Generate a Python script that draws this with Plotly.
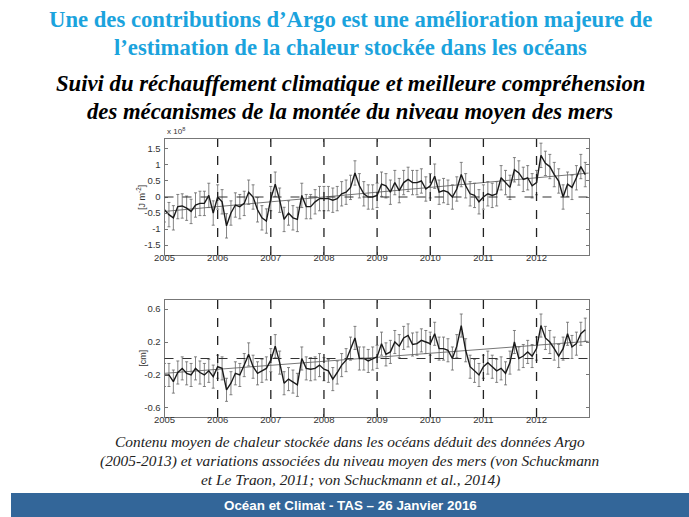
import numpy as np
import plotly.graph_objects as go

# ---------------- data ----------------
start_year = 2005
heat = [-0.40, -0.55, -0.65, -0.30, -0.28, -0.35, -0.45, -0.25, -0.20, -0.20, 0.05, -0.50,
        0.00, -0.15, -0.90, -0.50, -0.25, -0.30, -0.20, 0.15, 0.00, -0.40, -0.65, -0.75,
        -0.05, 0.40, -0.10, -0.70, -0.50, -0.65, -0.70, 0.05, -0.30, -0.30, -0.15, -0.05,
        -0.05, -0.05, -0.10, -0.05, 0.10, 0.15, 0.30, 0.75, 0.35, 0.10, 0.00, 0.00,
        0.05, 0.40, 0.35, 0.15, 0.45, 0.20, 0.45, 0.55, 0.45, 0.45, 0.50, 0.25,
        0.35, 0.65, 0.15, 0.20, 0.15, 0.00, 0.25, 0.70, 0.35, 0.10, 0.05, -0.15,
        0.00, 0.10, 0.05, 0.10, 0.60, 0.45, 0.30, 0.85, 0.75, 0.55, 0.60, 0.35,
        0.45, 1.30, 1.05, 0.95, 0.70, 0.50, 0.00, 0.40, 0.30, 0.60, 0.95, 0.70]
heat_err = 0.38
heat_trend = [-0.45, 0.75]

sea = [-0.20, -0.20, -0.28, -0.17, -0.12, -0.18, -0.20, -0.12, -0.17, -0.20, -0.15, -0.22,
       -0.10, -0.12, -0.38, -0.30, -0.18, -0.20, -0.08, 0.05, -0.10, -0.18, -0.15, -0.12,
       -0.02, 0.15, -0.05, -0.30, -0.25, -0.28, -0.32, 0.00, -0.12, -0.13, -0.12, -0.08,
       -0.13, -0.15, -0.25, -0.17, -0.08, -0.02, 0.12, 0.25, 0.00, 0.00, -0.03, 0.00,
       0.02, 0.18, 0.05, 0.08, 0.20, 0.15, 0.25, 0.28, 0.17, 0.18, 0.22, 0.20,
       0.18, 0.30, 0.12, 0.12, 0.10, 0.00, 0.15, 0.40, 0.10, -0.10, -0.15, -0.20,
       -0.10, -0.05, -0.10, -0.15, -0.12, -0.18, -0.05, 0.20, 0.00, 0.03, 0.08, 0.03,
       0.12, 0.40, 0.25, 0.20, 0.12, 0.03, 0.12, 0.30, 0.14, 0.18, 0.30, 0.35]
sea_err = 0.14
sea_trend = [-0.18, 0.21]

trend_years = [2005, 2013]
year_ticks = [2005, 2006, 2007, 2008, 2009, 2010, 2011, 2012]
year_lines = [2006, 2007, 2008, 2009, 2010, 2011, 2012]
heat_ticks = [-1.5, -1, -0.5, 0, 0.5, 1, 1.5]
heat_ticklabels = ["-1.5", "-1", "-0.5", "0", "0.5", "1", "1.5"]
sea_ticks = [-0.6, -0.2, 0.2, 0.6]
sea_ticklabels = ["-0.6", "-0.2", "0.2", "0.6"]

t = [start_year + i / 12 for i in range(len(heat))]

# ---------------- figure ----------------
fig = go.Figure()

def add_series(vals, err, trend, xa, ya):
    fig.add_trace(go.Scatter(x=trend_years, y=trend, mode="lines",
                             line=dict(color="#777777", width=1),
                             xaxis=xa, yaxis=ya, showlegend=False, hoverinfo="skip"))
    fig.add_trace(go.Scatter(x=t, y=vals, mode="lines",
                             line=dict(color="#1a1a1a", width=1.4),
                             error_y=dict(type="constant", value=err, color="#666666",
                                          thickness=0.8, width=1.5),
                             xaxis=xa, yaxis=ya, showlegend=False))

add_series(heat, heat_err, heat_trend, "x", "y")
add_series(sea, sea_err, sea_trend, "x2", "y2")

W, H = 689, 517
xdom = [156 / W, 587 / W]
ydom1 = [1 - 255 / H, 1 - 139 / H]
ydom2 = [1 - 417 / H, 1 - 300 / H]

SANS = "Liberation Sans, Arial, Helvetica, sans-serif"
SERIF = "Liberation Serif, Times New Roman, DejaVu Serif, serif"

axis_common = dict(showgrid=False, zeroline=False, showline=True, linecolor="#777777",
                   linewidth=1, mirror="ticks", ticks="inside", ticklen=3,
                   tickcolor="#777777", tickfont=dict(family=SANS, size=9.5, color="#333333"))

fig.update_layout(
    width=W, height=H, margin=dict(l=0, r=0, t=0, b=0),
    paper_bgcolor="white", plot_bgcolor="white",
    xaxis=dict(domain=xdom, anchor="y", range=[2005, 2012.98], tickvals=year_ticks,
               ticktext=[str(y) for y in year_ticks], ticklabelstandoff=-6, **axis_common),
    yaxis=dict(domain=ydom1, anchor="x", range=[-1.81, 1.81], tickvals=heat_ticks,
               ticktext=heat_ticklabels, ticklabelstandoff=1, **axis_common),
    xaxis2=dict(domain=xdom, anchor="y2", range=[2005, 2012.98], tickvals=year_ticks,
                ticktext=[str(y) for y in year_ticks], ticklabelstandoff=-6, **axis_common),
    yaxis2=dict(domain=ydom2, anchor="x2", range=[-0.71, 0.71], tickvals=sea_ticks,
                ticktext=sea_ticklabels, ticklabelstandoff=1, **axis_common),
)

shapes = []
for xr, yr in (("x", "y"), ("x2", "y2")):
    for yv in year_lines:
        shapes.append(dict(type="line", xref=xr, yref=yr + " domain", x0=yv, x1=yv, y0=0, y1=1,
                           line=dict(color="#222222", width=1.3, dash="dash")))
    shapes.append(dict(type="line", xref=xr + " domain", yref=yr, x0=0, x1=1, y0=0, y1=0,
                       line=dict(color="#333333", width=1.2, dash="dash")))
# footer bar
shapes.append(dict(type="rect", xref="paper", yref="paper", x0=0, x1=1, y0=0, y1=1 - 493 / H,
                   fillcolor="#336699", line=dict(width=0), layer="below"))
fig.update_layout(shapes=shapes)

def py(p):
    return 1 - p / H

ann = []
title_font = dict(family=SERIF, size=22.7, color="#1ba3dd")
ann.append(dict(text="<b>Une des contributions d’Argo est une amélioration majeure de</b>",
                x=0.5, y=py(20), font=title_font))
ann.append(dict(text="<b>l’estimation de la chaleur stockée dans les océans</b>",
                x=0.5, y=py(47), font=title_font))
sub_font = dict(family=SERIF, size=22.7, color="#000000")
ann.append(dict(text="<b><i>Suivi du réchauffement climatique et meilleure compréhension</i></b>",
                x=0.5, y=py(83), font=sub_font))
ann.append(dict(text="<b><i>des mécanismes de la montée du niveau moyen des mers</i></b>",
                x=0.5, y=py(111), font=sub_font))
cap_font = dict(family=SERIF, size=15.4, color="#222222")
caps = ["Contenu moyen de chaleur stockée dans les océans déduit des données Argo",
        "(2005-2013) et variations associées du niveau moyen des mers (von Schuckmann",
        "et Le Traon, 2011; von Schuckmann et al., 2014)"]
for i, c in enumerate(caps):
    ann.append(dict(text="<i>" + c + "</i>", x=0.5, y=py(441 + 19.5 * i), font=cap_font))
ann.append(dict(text="<b>Océan et Climat - TAS – 26 Janvier 2016</b>", x=0.5, y=py(505),
                font=dict(family=SANS, size=13.4, color="white")))
# axis labels
ann.append(dict(text="[J m<sup>-2</sup>]", x=132 / W, y=py(197), textangle=-90,
                font=dict(family=SANS, size=9, color="#333333")))
ann.append(dict(text="[cm]", x=134 / W, y=py(358), textangle=-90,
                font=dict(family=SANS, size=9, color="#333333")))
ann.append(dict(text="x 10<sup>8</sup>", x=157 / W, y=py(131), xanchor="left",
                font=dict(family=SANS, size=8, color="#333333")))

for a in ann:
    a.setdefault("xref", "paper")
    a.setdefault("yref", "paper")
    a.setdefault("showarrow", False)
    a.setdefault("xanchor", "center")
    a.setdefault("yanchor", "middle")
fig.update_layout(annotations=ann)

fig.write_html("out.html", config={"displayModeBar": False},
               post_script="document.body.style.margin='0';document.body.style.overflow='hidden';")
